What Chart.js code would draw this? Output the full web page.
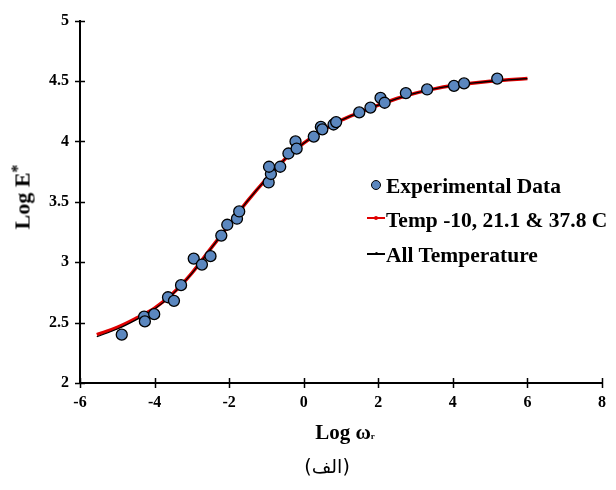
<!DOCTYPE html>
<html>
<head>
<meta charset="utf-8">
<script src="https://cdn.jsdelivr.net/npm/chart.js@4.4.1/dist/chart.umd.min.js"></script>
<style>
  html, body { margin: 0; padding: 0; background: #fff; }
  #wrap { position: relative; width: 616px; height: 490px; }
  #c { position: absolute; left: 0; top: 0; }
  .lbl { position: absolute; font-family: "Liberation Serif", "Times New Roman", serif; font-weight: bold; color: #000; white-space: nowrap; }
  .mk { position: absolute; box-sizing: border-box; }
</style>
</head>
<body>
<div id="wrap">
  <canvas id="c" width="616" height="490"></canvas>

  <div class="lbl" id="ytitle" style="font-size:22px;line-height:22px;left:20px;top:197px;transform:translate(-50%,-50%) rotate(-90deg);">Log E<sup style="font-size:16px;vertical-align:7px;">*</sup></div>
  <div class="lbl" style="font-size:21px;line-height:21px;left:345px;top:422px;transform:translateX(-50%);">Log ω<span style="font-size:9px;">r</span></div>

  <!-- legend -->
  <div class="mk" style="left:371px;top:180px;width:10px;height:10px;border-radius:50%;background:#5b87bf;border:1.3px solid #000;"></div>
  <div class="lbl" style="font-size:21.5px;line-height:22px;left:386px;top:175px;">Experimental Data</div>
  <div class="mk" style="left:367px;top:217px;width:18px;height:2px;background:#e00000;"></div>
  <div class="mk" style="left:374px;top:216px;width:4px;height:4px;border-radius:50%;background:#e00000;"></div>
  <div class="lbl" style="font-size:21.5px;line-height:22px;left:386px;top:209px;">Temp -10, 21.1 &amp; 37.8 C</div>
  <div class="mk" style="left:367px;top:253px;width:18px;height:1.5px;background:#000;"></div>
  <div class="mk" style="left:374.5px;top:252px;width:3px;height:3px;border-radius:50%;background:#000;"></div>
  <div class="lbl" style="font-size:21.5px;line-height:22px;left:386px;top:244px;">All Temperature</div>

  <div style="position:absolute;left:327px;top:466px;transform:translate(-50%,-50%);font-family:'DejaVu Sans',sans-serif;font-size:19px;color:#000;white-space:nowrap;">(الف)</div>
</div>

<script>
// experimental points (Log wr, Log E*)
const expX = [-4.88, -4.28, -4.26, -4.01, -3.64, -3.48, -3.29, -2.95, -2.73, -2.50, -2.21, -2.05, -1.79, -1.73,
  -0.94, -0.88, -0.93, -0.63, -0.41, -0.22, -0.19, 0.27, 0.46, 0.50, 0.80, 0.87, 1.49, 1.79, 2.06, 2.17,
  2.74, 3.31, 4.03, 4.30, 5.19];
const expY = [2.40, 2.55, 2.51, 2.57, 2.71, 2.68, 2.81, 3.03, 2.98, 3.05, 3.22, 3.31, 3.36, 3.42,
  3.66, 3.73, 3.79, 3.79, 3.90, 4.00, 3.94, 4.04, 4.12, 4.10, 4.14, 4.16, 4.24, 4.28, 4.36, 4.32,
  4.40, 4.43, 4.46, 4.48, 4.52];

// master curves
const fitX = [-5.55, -5, -4.5, -4, -3.5, -3, -2.5, -2, -1.5, -1, -0.5, 0, 0.5, 1, 1.5, 2, 2.5, 3, 3.5, 4, 4.5, 5, 5.5, 6];
const tempFitY = [2.40, 2.46, 2.535, 2.62, 2.745, 2.91, 3.11, 3.31, 3.51, 3.69, 3.855, 3.985, 4.09, 4.175, 4.24, 4.30,
  4.355, 4.40, 4.435, 4.462, 4.482, 4.498, 4.51, 4.52];
const allFitY = [2.383, 2.447, 2.523, 2.612, 2.74, 2.907, 3.108, 3.31, 3.51, 3.69, 3.855, 3.985, 4.09, 4.175, 4.24, 4.30,
  4.355, 4.40, 4.435, 4.462, 4.482, 4.498, 4.51, 4.52];

const xTicks = [-6, -4, -2, 0, 2, 4, 6, 8];
const yTicks = [2, 2.5, 3, 3.5, 4, 4.5, 5];

function pairs(xs, ys) {
  return xs.map((x, i) => ({ x: x, y: ys[i] }));
}

// tick marks crossing the axes
const crossTicks = {
  id: 'crossTicks',
  afterDraw(chart) {
    const ctx = chart.ctx;
    const xs = chart.scales.x, ys = chart.scales.y;
    const area = chart.chartArea;
    ctx.save();
    ctx.strokeStyle = '#000';
    ctx.lineWidth = 1.5;
    ctx.beginPath();
    xTicks.forEach(v => {
      const p = Math.round(xs.getPixelForValue(v)) + 0.5;
      ctx.moveTo(p, area.bottom - 5);
      ctx.lineTo(p, area.bottom + 5);
    });
    yTicks.forEach(v => {
      const p = Math.round(ys.getPixelForValue(v)) + 0.5;
      ctx.moveTo(area.left - 5, p);
      ctx.lineTo(area.left + 5, p);
    });
    ctx.stroke();
    ctx.restore();
  }
};

const tickFont = { family: '"Liberation Serif", "Times New Roman", serif', weight: 'bold', size: 16 };

new Chart(document.getElementById('c'), {
  type: 'scatter',
  data: {
    datasets: [
      {
        label: 'Experimental Data',
        data: pairs(expX, expY),
        pointRadius: 5.5,
        pointBackgroundColor: '#5b87bf',
        pointBorderColor: '#000',
        pointBorderWidth: 1.3,
        order: 0
      },
      {
        label: 'All Temperature',
        data: pairs(fitX, allFitY),
        showLine: true,
        borderColor: '#000',
        borderWidth: 1.3,
        pointRadius: 0,
        cubicInterpolationMode: 'monotone',
        order: 1
      },
      {
        label: 'Temp -10, 21.1 & 37.8 C',
        data: pairs(fitX, tempFitY),
        showLine: true,
        borderColor: '#e00000',
        borderWidth: 3.5,
        pointRadius: 0,
        cubicInterpolationMode: 'monotone',
        order: 2
      }
    ]
  },
  options: {
    responsive: false,
    animation: false,
    layout: { padding: { top: 16, right: 7, bottom: 0, left: 0 } },
    plugins: { legend: { display: false }, tooltip: { enabled: false } },
    scales: {
      x: {
        type: 'linear',
        min: -6, max: 8,
        afterBuildTicks: s => { s.ticks = xTicks.map(v => ({ value: v })); },
        afterFit: s => { s.height = 107; },
        grid: { display: false, drawTicks: false },
        border: { display: true, color: '#000', width: 2 },
        ticks: { font: tickFont, color: '#000', padding: 10, maxRotation: 0, callback: v => String(v) }
      },
      y: {
        type: 'linear',
        min: 2, max: 5,
        afterBuildTicks: s => { s.ticks = yTicks.map(v => ({ value: v })); },
        afterFit: s => { s.width = 80; },
        grid: { display: false, drawTicks: false },
        border: { display: true, color: '#000', width: 2 },
        ticks: { font: tickFont, color: '#000', padding: 11, callback: v => String(v) }
      }
    }
  },
  plugins: [crossTicks]
});
</script>
</body>
</html>
